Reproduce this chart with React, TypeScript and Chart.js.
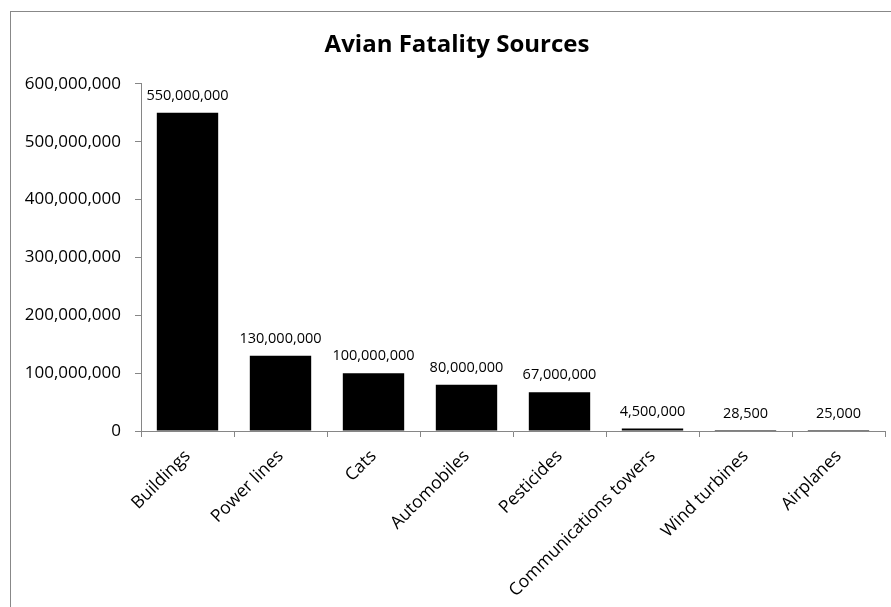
import React, { useEffect, useRef } from "react";
import { Chart, registerables } from "chart.js";

Chart.register(...registerables);

const categories = [
  "Buildings",
  "Power lines",
  "Cats",
  "Automobiles",
  "Pesticides",
  "Communications towers",
  "Wind turbines",
  "Airplanes",
];
const fatalities = [550000000, 130000000, 100000000, 80000000, 67000000, 4500000, 28500, 25000];
const yTicks = [0, 100000000, 200000000, 300000000, 400000000, 500000000, 600000000];
const titleText = "Avian Fatality Sources";

const FONT = "'Open Sans', sans-serif";
const TITLE_SIZE = 24;
const fmt = (v: number) => v.toLocaleString("en-US");

const dataLabels = {
  id: "dataLabels",
  afterDatasetsDraw(chart: any) {
    const ctx = chart.ctx;
    const meta = chart.getDatasetMeta(0);
    ctx.save();
    ctx.font = `14.5px ${FONT}`;
    ctx.fillStyle = "#000";
    ctx.textAlign = "center";
    ctx.textBaseline = "middle";
    meta.data.forEach((bar: any, i: number) => {
      ctx.fillText(fmt(fatalities[i]), bar.x, bar.y - 17);
    });
    ctx.restore();
  },
};

// Title centred on the whole chart frame (which extends past the right edge)
const centredTitle = {
  id: "centredTitle",
  afterDraw(chart: any) {
    const ctx = chart.ctx;
    const tb = chart.titleBlock;
    const y = (tb ? tb.top + 28 + (TITLE_SIZE * 1.2) / 2 : 43) + 3;
    ctx.save();
    ctx.font = `bold ${TITLE_SIZE}px ${FONT}`;
    ctx.fillStyle = "#000";
    ctx.textAlign = "center";
    ctx.textBaseline = "middle";
    ctx.fillText(titleText, chart.width / 2, y);
    ctx.restore();
  },
};

export default function App() {
  const ref = useRef<HTMLCanvasElement>(null);
  useEffect(() => {
    if (!ref.current) return;
    const chart = new Chart(ref.current, {
      type: "bar",
      data: {
        labels: categories,
        datasets: [
          {
            data: fatalities,
            backgroundColor: "#000",
            borderWidth: 0,
            categoryPercentage: 1,
            barPercentage: 0.66,
          },
        ],
      },
      options: {
        responsive: false,
        animation: false,
        layout: { padding: { left: 0, right: 29, top: 0, bottom: 0 } },
        plugins: {
          legend: { display: false },
          tooltip: { enabled: false },
          title: {
            display: true,
            text: titleText,
            color: "rgba(0,0,0,0)",
            font: { family: FONT, size: TITLE_SIZE, weight: "bold", lineHeight: 1.2 },
            padding: { top: 28, bottom: 27 },
          },
        },
        scales: {
          x: {
            grid: {
              display: true,
              drawOnChartArea: false,
              drawTicks: true,
              tickLength: 6,
              color: "#868686",
              offset: true,
            },
            border: { display: true, color: "#868686" },
            ticks: {
              color: "#000",
              font: { family: FONT, size: 17.5 },
              minRotation: 45,
              maxRotation: 45,
              autoSkip: false,
              padding: 9,
            },
            afterFit: (s: any) => {
              s.height = 176;
            },
          },
          y: {
            min: 0,
            max: 600000000,
            afterBuildTicks: (s: any) => {
              s.ticks = yTicks.map((v) => ({ value: v }));
            },
            grid: {
              display: true,
              drawOnChartArea: false,
              drawTicks: true,
              tickLength: 6,
              color: "#868686",
            },
            border: { display: true, color: "#868686" },
            ticks: {
              color: "#000",
              font: { family: FONT, size: 17 },
              padding: 14,
              callback: (v: any) => fmt(Number(v)),
            },
            afterFit: (s: any) => {
              s.width = 141;
            },
          },
        },
      },
      plugins: [dataLabels, centredTitle],
    });
    return () => chart.destroy();
  }, []);

  return (
    <div
      style={{
        position: "fixed",
        left: 0,
        top: 0,
        width: 891,
        height: 607,
        overflow: "hidden",
        background: "#fff",
      }}
    >
      <div
        style={{
          position: "absolute",
          left: 10,
          top: 11,
          width: 2000,
          height: 2000,
          border: "1px solid #888",
        }}
      />
      <canvas
        ref={ref}
        width={914}
        height={607}
        style={{ position: "absolute", left: 0, top: 0, width: 914, height: 607 }}
      />
    </div>
  );
}
